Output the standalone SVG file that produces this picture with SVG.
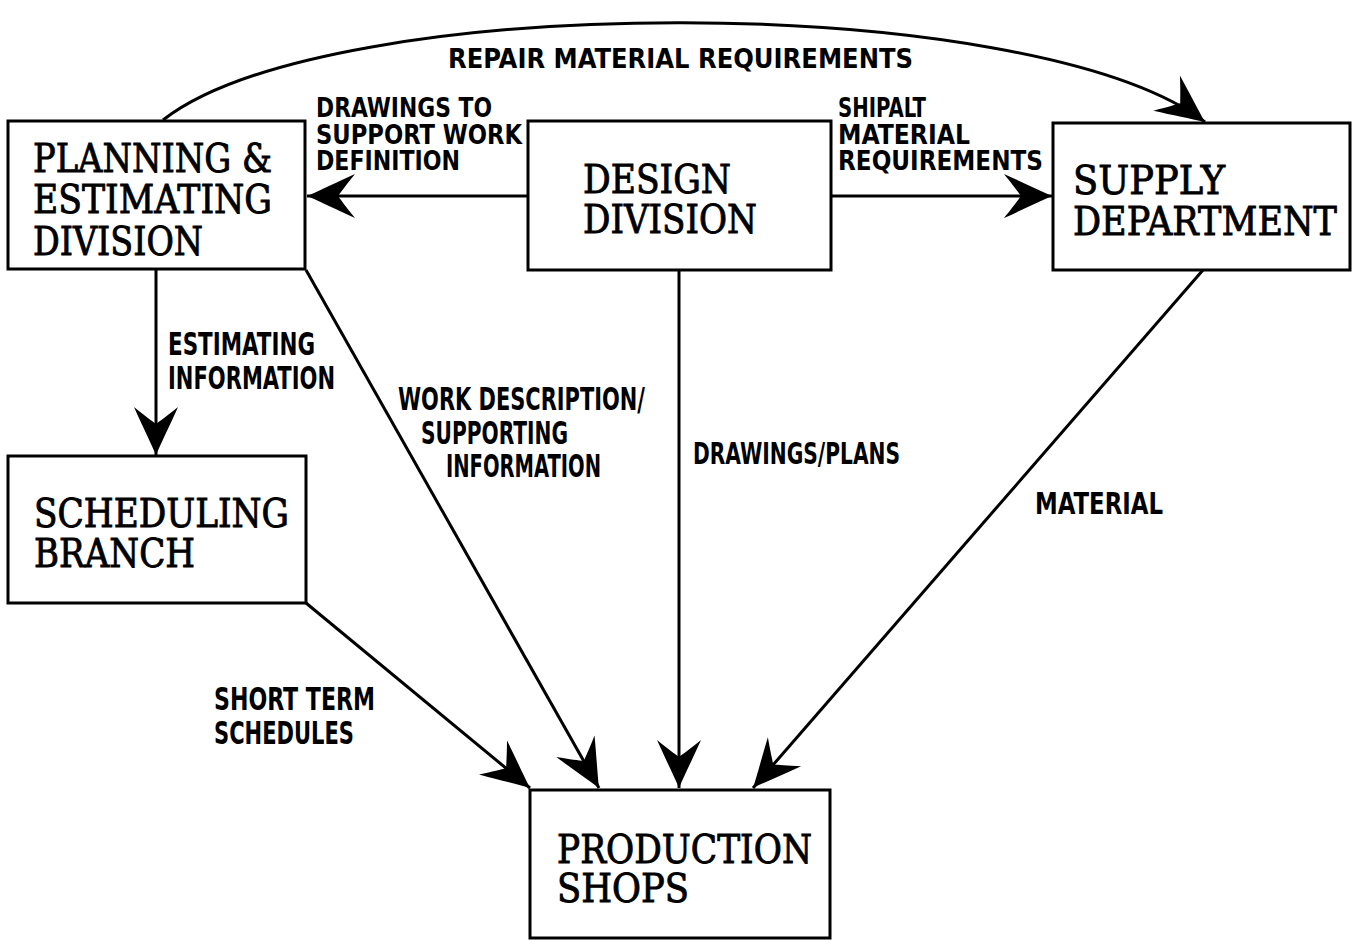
<svg xmlns="http://www.w3.org/2000/svg" width="1356" height="941" viewBox="0 0 1356 941">
<style>
.box{fill:#fff;stroke:#000;stroke-width:3}
.bt{font-family:"DejaVu Serif","Liberation Serif",serif;font-size:39px;fill:#000;stroke:#000;stroke-width:0.9}
.lb{font-family:"DejaVu Sans","Liberation Sans",sans-serif;font-stretch:condensed;font-weight:bold;fill:#000}
.c{fill:none;stroke:#000;stroke-width:3;marker-end:url(#ah)}
</style>
<defs>
<marker id="ah" markerUnits="userSpaceOnUse" orient="auto" refX="0" refY="0" markerWidth="1" markerHeight="1" overflow="visible">
<path d="M0,0 C-14,-6 -30,-14 -48,-22 C-39,-11 -34,-4 -31,0 C-34,4 -39,11 -48,22 C-30,14 -14,6 0,0 Z" fill="#000"/>
</marker>
</defs>
<rect width="1356" height="941" fill="#fff"/>
<g id="connectors">
<path class="c" d="M163,120 C330,-10 1030,-10 1205,122"/>
<line class="c" x1="528" y1="196" x2="307" y2="196"/>
<line class="c" x1="831" y1="196" x2="1052" y2="196"/>
<line class="c" x1="156" y1="270" x2="156" y2="455"/>
<line class="c" x1="306" y1="270" x2="599" y2="788"/>
<line class="c" x1="306" y1="603" x2="530" y2="788"/>
<line class="c" x1="679" y1="270" x2="679" y2="788"/>
<line class="c" x1="1203" y1="270" x2="753" y2="788"/>
</g>
<g id="labels">
<text class="lb" font-size="27" x="448" y="68" textLength="465" lengthAdjust="spacingAndGlyphs">REPAIR MATERIAL REQUIREMENTS</text>
<text class="lb" font-size="26" x="316" y="117" textLength="176" lengthAdjust="spacingAndGlyphs">DRAWINGS TO</text>
<text class="lb" font-size="26" x="316" y="144" textLength="206" lengthAdjust="spacingAndGlyphs">SUPPORT WORK</text>
<text class="lb" font-size="26" x="316" y="170" textLength="144" lengthAdjust="spacingAndGlyphs">DEFINITION</text>
<text class="lb" font-size="26" x="838" y="117" textLength="88" lengthAdjust="spacingAndGlyphs">SHIPALT</text>
<text class="lb" font-size="26" x="838" y="144" textLength="132" lengthAdjust="spacingAndGlyphs">MATERIAL</text>
<text class="lb" font-size="26" x="838" y="170" textLength="205" lengthAdjust="spacingAndGlyphs">REQUIREMENTS</text>
<text class="lb" font-size="32" x="168" y="355" textLength="147" lengthAdjust="spacingAndGlyphs">ESTIMATING</text>
<text class="lb" font-size="32" x="168" y="389" textLength="167" lengthAdjust="spacingAndGlyphs">INFORMATION</text>
<text class="lb" font-size="32" x="398" y="410" textLength="247" lengthAdjust="spacingAndGlyphs">WORK DESCRIPTION/</text>
<text class="lb" font-size="32" x="421" y="444" textLength="147" lengthAdjust="spacingAndGlyphs">SUPPORTING</text>
<text class="lb" font-size="32" x="446" y="477" textLength="155" lengthAdjust="spacingAndGlyphs">INFORMATION</text>
<text class="lb" font-size="30" x="693" y="464" textLength="207" lengthAdjust="spacingAndGlyphs">DRAWINGS/PLANS</text>
<text class="lb" font-size="30" x="1035" y="514" textLength="128" lengthAdjust="spacingAndGlyphs">MATERIAL</text>
<text class="lb" font-size="32" x="214" y="710" textLength="161" lengthAdjust="spacingAndGlyphs">SHORT TERM</text>
<text class="lb" font-size="32" x="214" y="744" textLength="140" lengthAdjust="spacingAndGlyphs">SCHEDULES</text>
</g>
<g id="planning">
<rect class="box" x="8" y="121" width="297" height="148"/>
<text class="bt" x="33" y="172" textLength="239" lengthAdjust="spacingAndGlyphs">PLANNING &amp;</text>
<text class="bt" x="33" y="213" textLength="239" lengthAdjust="spacingAndGlyphs">ESTIMATING</text>
<text class="bt" x="33" y="255" textLength="170" lengthAdjust="spacingAndGlyphs">DIVISION</text>
</g>
<g id="design">
<rect class="box" x="528" y="121" width="303" height="149"/>
<text class="bt" x="583" y="193" textLength="148" lengthAdjust="spacingAndGlyphs">DESIGN</text>
<text class="bt" x="583" y="233" textLength="174" lengthAdjust="spacingAndGlyphs">DIVISION</text>
</g>
<g id="supply">
<rect class="box" x="1053" y="123" width="297" height="147"/>
<text class="bt" x="1073" y="194" textLength="152" lengthAdjust="spacingAndGlyphs">SUPPLY</text>
<text class="bt" x="1073" y="235" textLength="264" lengthAdjust="spacingAndGlyphs">DEPARTMENT</text>
</g>
<g id="scheduling">
<rect class="box" x="8" y="456" width="298" height="147"/>
<text class="bt" x="34" y="527" textLength="255" lengthAdjust="spacingAndGlyphs">SCHEDULING</text>
<text class="bt" x="34" y="567" textLength="161" lengthAdjust="spacingAndGlyphs">BRANCH</text>
</g>
<g id="production">
<rect class="box" x="530" y="790" width="300" height="148"/>
<text class="bt" x="557" y="863" textLength="255" lengthAdjust="spacingAndGlyphs">PRODUCTION</text>
<text class="bt" x="557" y="902" textLength="132" lengthAdjust="spacingAndGlyphs">SHOPS</text>
</g>
</svg>
